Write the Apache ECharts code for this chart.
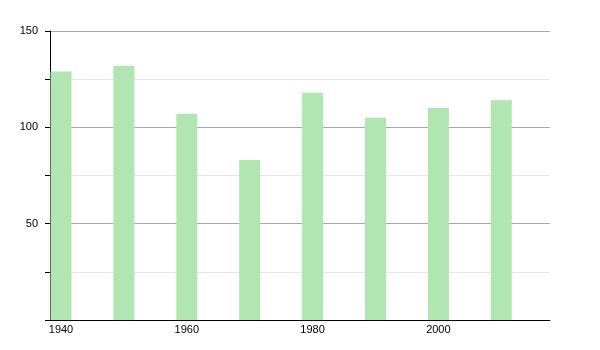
<!DOCTYPE html>
<html><head><meta charset="utf-8">
<script src="https://cdn.jsdelivr.net/npm/echarts@6/dist/echarts.min.js"></script>
<style>html,body{margin:0;padding:0;background:#fff}#c{width:600px;height:350px}</style>
</head><body><div id="c"></div>
<script>
const years = [1940, 1950, 1960, 1970, 1980, 1990, 2000, 2010];
const values = [129, 132, 107, 83, 118, 105, 110, 114];
const xTickLabels = [1940, 1960, 1980, 2000];
const yTicks = [50, 100, 150];

const chart = echarts.init(document.getElementById('c'), null, {renderer: 'canvas'});
chart.setOption({
  animation: false,
  backgroundColor: '#fff',
  grid: {left: 50, right: 50, top: 31, bottom: 30, containLabel: false},
  xAxis: {
    type: 'value', min: 1938.25, max: 2017.75,
    axisLine: {show: true, onZero: false, lineStyle: {color: '#000', width: 1}},
    axisTick: {show: false},
    splitLine: {show: false},
    axisLabel: {customValues: xTickLabels, color: '#000', fontFamily: 'Liberation Sans', fontSize: 11, margin: 4,
      formatter: v => String(v)}
  },
  yAxis: {
    type: 'value', min: 0, max: 150, interval: 50,
    axisLine: {show: true, lineStyle: {color: '#000', width: 1}},
    axisTick: {show: true, length: 5, lineStyle: {color: '#000'}},
    minorTick: {show: true, splitNumber: 2, length: 5, lineStyle: {color: '#000'}},
    splitLine: {show: true, lineStyle: {color: '#a8a8a8', width: 1}},
    minorSplitLine: {show: true, lineStyle: {color: '#e6e6e6', width: 1}},
    axisLabel: {color: '#000', fontFamily: 'Liberation Sans', fontSize: 11, margin: 12,
      formatter: v => yTicks.includes(v) ? String(v) : ''}
  },
  series: [{
    type: 'bar',
    barWidth: 21,
    itemStyle: {color: '#b1e5b1'},
    data: years.map((y, i) => [y, values[i]])
  }]
});
</script></body></html>
